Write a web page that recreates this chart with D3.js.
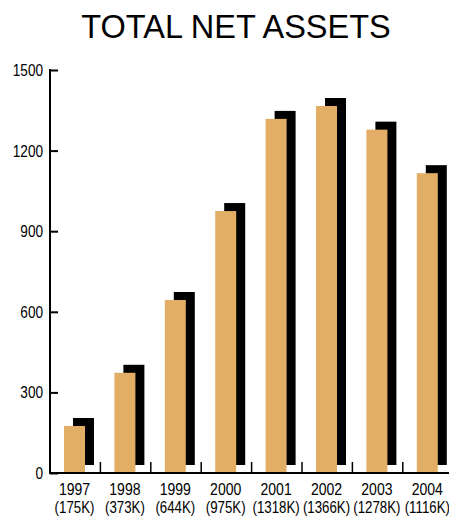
<!DOCTYPE html>
<html>
<head>
<meta charset="utf-8">
<script src="https://cdn.jsdelivr.net/npm/d3@7"></script>
<style>
  html, body { margin: 0; padding: 0; background: #fff; }
  svg { display: block; }
</style>
</head>
<body>
<svg id="chart" width="449" height="516"></svg>
<script>
// Total net assets by year (thousands)
const years = ["1997", "1998", "1999", "2000", "2001", "2002", "2003", "2004"];
const assets = [175, 373, 644, 975, 1318, 1366, 1278, 1116];
const subLabels = ["(175K)", "(373K)", "(644K)", "(975K)", "(1318K)", "(1366K)", "(1278K)", "(1116K)"];
const yTicks = [0, 300, 600, 900, 1200, 1500];

const svg = d3.select("#chart");
const plotLeft = 50, plotTop = 70, plotBottom = 473, bandW = 50.4;
const font = "'Liberation Sans', Arial, Helvetica, sans-serif";
const squeeze = 0.85; // condensed look for axis labels

const x = d3.scaleBand().domain(years).range([plotLeft, plotLeft + bandW * years.length]).paddingInner(0).paddingOuter(0);
const y = d3.scaleLinear().domain([0, 1500]).range([plotBottom, plotTop]);

// title
svg.append("text")
  .attr("x", 236).attr("y", 38)
  .attr("text-anchor", "middle")
  .attr("font-family", font)
  .attr("font-size", 32.5)
  .attr("fill", "#000")
  .text("TOTAL NET ASSETS");

const barW = 21, barOff = 14, shX = 9, shY = 8;

// black shadow bars behind
svg.append("g").selectAll("rect").data(assets).join("rect")
  .attr("x", (d, i) => x(years[i]) + barOff + shX)
  .attr("y", d => y(d) - shY)
  .attr("width", barW)
  .attr("height", d => y(0) - y(d))
  .attr("fill", "#000");

// orange bars
svg.append("g").selectAll("rect").data(assets).join("rect")
  .attr("x", (d, i) => x(years[i]) + barOff)
  .attr("y", d => y(d))
  .attr("width", barW)
  .attr("height", d => y(0) - y(d))
  .attr("fill", "#e2ae66");

// y axis
const yAxis = d3.axisRight(y).tickValues(yTicks).tickSize(8).tickFormat("");
const gy = svg.append("g").attr("transform", `translate(${plotLeft},0)`).call(yAxis);
gy.select(".domain").remove();
gy.selectAll(".tick line").attr("stroke", "#000").attr("stroke-width", 2);
svg.append("line").attr("x1", plotLeft).attr("x2", plotLeft).attr("y1", plotTop - 1).attr("y2", plotBottom + 1)
  .attr("stroke", "#000").attr("stroke-width", 2);

svg.append("g").selectAll("text").data(yTicks).join("text")
  .attr("transform", d => `translate(${plotLeft - 7},${y(d) + 6}) scale(${squeeze},1)`)
  .attr("text-anchor", "end")
  .attr("font-family", font)
  .attr("font-size", 16)
  .attr("fill", "#000")
  .text(d => d);

// x axis
svg.append("line").attr("x1", plotLeft - 1).attr("x2", 449).attr("y1", plotBottom).attr("y2", plotBottom)
  .attr("stroke", "#000").attr("stroke-width", 2);
svg.append("g").selectAll("line").data(years).join("line")
  .attr("x1", d => x(d) + x.bandwidth())
  .attr("x2", d => x(d) + x.bandwidth())
  .attr("y1", plotBottom)
  .attr("y2", plotBottom - 11)
  .attr("stroke", "#000").attr("stroke-width", 1.5);

const labels = svg.append("g").attr("font-family", font).attr("fill", "#000").attr("text-anchor", "middle");
labels.selectAll("text.yr").data(years).join("text").attr("class", "yr")
  .attr("font-size", 16.5)
  .attr("transform", d => `translate(${x(d) + barOff + barW / 2},495) scale(${squeeze},1)`)
  .text(d => d);
labels.selectAll("text.val").data(subLabels).join("text").attr("class", "val")
  .attr("font-size", 16)
  .attr("transform", (d, i) => `translate(${x(years[i]) + barOff + barW / 2},512.5) scale(0.83,1)`)
  .text(d => d);
</script>
</body>
</html>
